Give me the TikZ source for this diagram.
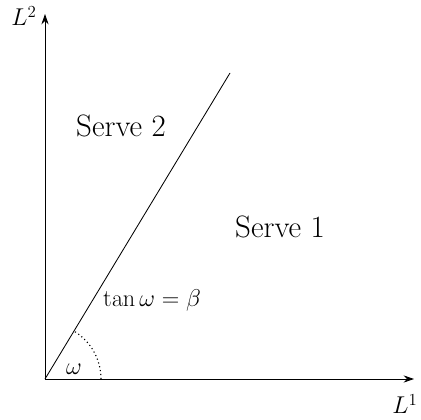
\documentclass[tikz,border=0pt]{standalone}
\usepackage{tikz}
\usetikzlibrary{arrows.meta}
\usepackage{amsmath,amssymb}

\begin{document}
\begin{tikzpicture}[
  axis/.style={-{Stealth[length=2.6mm,width=1.8mm]},semithick},
  lbl/.style={font=\fontsize{22}{26}\selectfont,inner sep=0pt},
  mlbl/.style={font=\fontsize{18}{22}\selectfont,inner sep=0pt}]
  \useasboundingbox (-1.125,-1.025) rectangle (9.4,9.475);
  \coordinate (o)    at (0,0);
  \coordinate (xend) at (9.225,0);
  \coordinate (yend) at (0,9.125);
  \coordinate (sep)  at (4.625,7.65);
  \node[mlbl] (l2) at (-0.525,9.075) {$L^2$};
  \node[mlbl] (l1) at (9.0,-0.625)   {$L^1$};
  \node[lbl]  (s2) at (1.9,6.325)    {Serve 2};
  \node[lbl]  (s1) at (5.875,3.8)    {Serve 1};
  \node[mlbl] (tn) at (2.675,1.975)  {$\tan\omega=\beta$};
  \node[mlbl] (om) at (0.725,0.25)   {$\omega$};
  \draw[axis] (o) -- (xend);
  \draw[axis] (o) -- (yend);
  \draw[semithick] (o) -- (sep);
  \draw[dotted,thick] (1.4,0) arc[start angle=0,end angle=58.8,radius=1.4];
\end{tikzpicture}
\end{document}
